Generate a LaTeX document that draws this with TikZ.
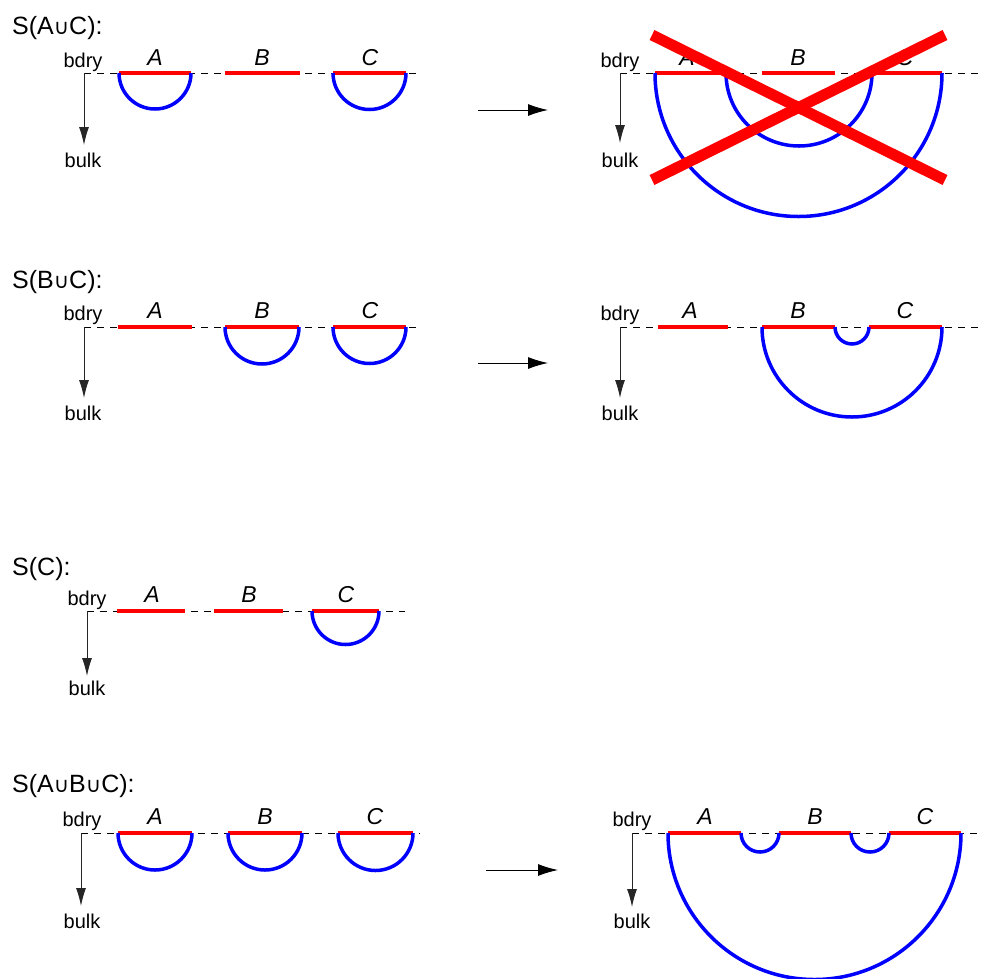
\documentclass[tikz,border=0pt]{standalone}
\usepackage{fontspec}
\setmainfont{Liberation Sans}
\newfontfamily\symfont{DejaVu Sans}
\usetikzlibrary{arrows.meta}
\newcommand{\smcup}{{\symfont\fontsize{21}{21}\selectfont ∪}}
\begin{document}
\begin{tikzpicture}[x=1pt,y=-1pt,
  every node/.style={inner sep=0pt},
  ttl/.style={anchor=base west,font=\fontsize{25}{28}\selectfont},
  axlbl/.style={anchor=base,font=\fontsize{20}{23}\selectfont},
  seglbl/.style={anchor=base,font=\fontsize{23}{26}\selectfont\itshape},
  bdryline/.style={draw=black,line width=0.9pt,dash pattern=on 7pt off 6pt},
  axarrow/.style={draw=black!85,line width=1pt,-{Latex[length=18pt,width=10pt]}},
  maparrow/.style={draw=black,line width=1pt,-{Latex[length=20pt,width=12pt]}},
  region/.style={draw=red,line width=4pt},
  geod/.style={draw=blue,line width=3.5pt},
  cross/.style={draw=red,line width=11pt}]
\useasboundingbox (0,0) rectangle (982,978);

% ================= Panel 1: S(AuC) =================
\node[ttl] (t1) at (12,34) {S(A\smcup C):};
% left
\coordinate (o1) at (84,73); \coordinate (e1) at (418,73); \coordinate (k1) at (84,145);
\draw[bdryline] (o1) -- (e1);
\draw[axarrow] (o1) -- (k1);
\node[axlbl] (bd1) at (83,67) {bdry};
\node[axlbl] (bk1) at (83,167) {bulk};
\draw[region] (119,73) -- (191,73);
\draw[region] (225,73) -- (300,73);
\draw[region] (333,73) -- (406,73);
\draw[geod] (119,73) arc[start angle=180,end angle=0,radius=36];
\draw[geod] (333,73) arc[start angle=180,end angle=0,radius=36.5];
\node[seglbl] (a1) at (155,65) {A};
\node[seglbl] (b1) at (262,65) {B};
\node[seglbl] (c1) at (370,65) {C};
% map arrow
\coordinate (m1s) at (478,110); \coordinate (m1e) at (548,110);
\draw[maparrow] (m1s) -- (m1e);
% right
\coordinate (o1r) at (620,73); \coordinate (e1r) at (980,73); \coordinate (k1r) at (620,143);
\draw[bdryline] (o1r) -- (e1r);
\draw[axarrow] (o1r) -- (k1r);
\node[axlbl] (bd1r) at (620,67) {bdry};
\node[axlbl] (bk1r) at (620,167) {bulk};
\node[seglbl] (a1r) at (687,65) {A};
\node[seglbl] (b1r) at (798,65) {B};
\node[seglbl] (c1r) at (905,65) {C};
\draw[region] (655,73) -- (728,73);
\draw[region] (762,73) -- (835,73);
\draw[region] (870,73) -- (942,73);
\draw[geod] (655,73) arc[start angle=180,end angle=0,radius=143.5];
\draw[geod] (726,73) arc[start angle=180,end angle=0,radius=73];
\draw[cross] (652,35) -- (945,180);
\draw[cross] (652,180) -- (945,35);

% ================= Panel 2: S(BuC) =================
\node[ttl] (t2) at (12,288) {S(B\smcup C):};
\coordinate (o2) at (84,327); \coordinate (e2) at (418,327); \coordinate (k2) at (84,398);
\draw[bdryline] (o2) -- (e2);
\draw[axarrow] (o2) -- (k2);
\node[axlbl] (bd2) at (83,320) {bdry};
\node[axlbl] (bk2) at (83,420) {bulk};
\draw[region] (118,327) -- (192,327);
\draw[region] (225,327) -- (299,327);
\draw[region] (333,327) -- (406,327);
\draw[geod] (225,327) arc[start angle=180,end angle=0,radius=37];
\draw[geod] (333,327) arc[start angle=180,end angle=0,radius=36.5];
\node[seglbl] (a2) at (155,318) {A};
\node[seglbl] (b2) at (262,318) {B};
\node[seglbl] (c2) at (370,318) {C};
\coordinate (m2s) at (478,363); \coordinate (m2e) at (548,363);
\draw[maparrow] (m2s) -- (m2e);
% right
\coordinate (o2r) at (620,327); \coordinate (e2r) at (980,327); \coordinate (k2r) at (620,398);
\draw[bdryline] (o2r) -- (e2r);
\draw[axarrow] (o2r) -- (k2r);
\node[axlbl] (bd2r) at (620,320) {bdry};
\node[axlbl] (bk2r) at (620,420) {bulk};
\draw[region] (658,327) -- (728,327);
\draw[region] (762,327) -- (835,327);
\draw[region] (869,327) -- (942,327);
\draw[geod] (762,327) arc[start angle=180,end angle=0,radius=90];
\draw[geod] (835,327) arc[start angle=180,end angle=0,radius=17];
\node[seglbl] (a2r) at (690,318) {A};
\node[seglbl] (b2r) at (798,318) {B};
\node[seglbl] (c2r) at (905,318) {C};

% ================= Panel 3: S(C) =================
\node[ttl] (t3) at (12,575) {S(C):};
\coordinate (o3) at (87,611); \coordinate (e3) at (405,611); \coordinate (k3) at (87,676);
\draw[bdryline] (o3) -- (e3);
\draw[axarrow] (o3) -- (k3);
\node[axlbl] (bd3) at (87,605) {bdry};
\node[axlbl] (bk3) at (87,695) {bulk};
\draw[region] (117,611) -- (185,611);
\draw[region] (214,611) -- (283,611);
\draw[region] (312,611) -- (379,611);
\draw[geod] (312,611) arc[start angle=180,end angle=0,radius=33.5];
\node[seglbl] (a3) at (152,602) {A};
\node[seglbl] (b3) at (249,602) {B};
\node[seglbl] (c3) at (346,602) {C};

% ================= Panel 4: S(AuBuC) =================
\node[ttl] (t4) at (12,792) {S(A\smcup B\smcup C):};
\coordinate (o4) at (81,833); \coordinate (e4) at (420,833); \coordinate (k4) at (81,906);
\draw[bdryline] (o4) -- (e4);
\draw[axarrow] (o4) -- (k4);
\node[axlbl] (bd4) at (82,826) {bdry};
\node[axlbl] (bk4) at (82,928) {bulk};
\draw[region] (118,833) -- (192,833);
\draw[region] (228,833) -- (302,833);
\draw[region] (338,833) -- (413,833);
\draw[geod] (118,833) arc[start angle=180,end angle=0,radius=37];
\draw[geod] (228,833) arc[start angle=180,end angle=0,radius=37];
\draw[geod] (338,833) arc[start angle=180,end angle=0,radius=37.5];
\node[seglbl] (a4) at (155,824) {A};
\node[seglbl] (b4) at (265,824) {B};
\node[seglbl] (c4) at (375,824) {C};
\coordinate (m4s) at (486,870); \coordinate (m4e) at (558,870);
\draw[maparrow] (m4s) -- (m4e);
% right
\coordinate (o4r) at (632,833); \coordinate (e4r) at (980,833); \coordinate (k4r) at (632,907);
\draw[bdryline] (o4r) -- (e4r);
\draw[axarrow] (o4r) -- (k4r);
\node[axlbl] (bd4r) at (632,826) {bdry};
\node[axlbl] (bk4r) at (632,928) {bulk};
\draw[region] (668,833) -- (741,833);
\draw[region] (779,833) -- (851,833);
\draw[region] (889,833) -- (961,833);
\draw[geod] (668,833) arc[start angle=180,end angle=0,radius=146.5];
\draw[geod] (741,833) arc[start angle=180,end angle=0,radius=19];
\draw[geod] (851,833) arc[start angle=180,end angle=0,radius=19];
\node[seglbl] (a4r) at (705,824) {A};
\node[seglbl] (b4r) at (815,824) {B};
\node[seglbl] (c4r) at (925,824) {C};
\end{tikzpicture}
\end{document}
